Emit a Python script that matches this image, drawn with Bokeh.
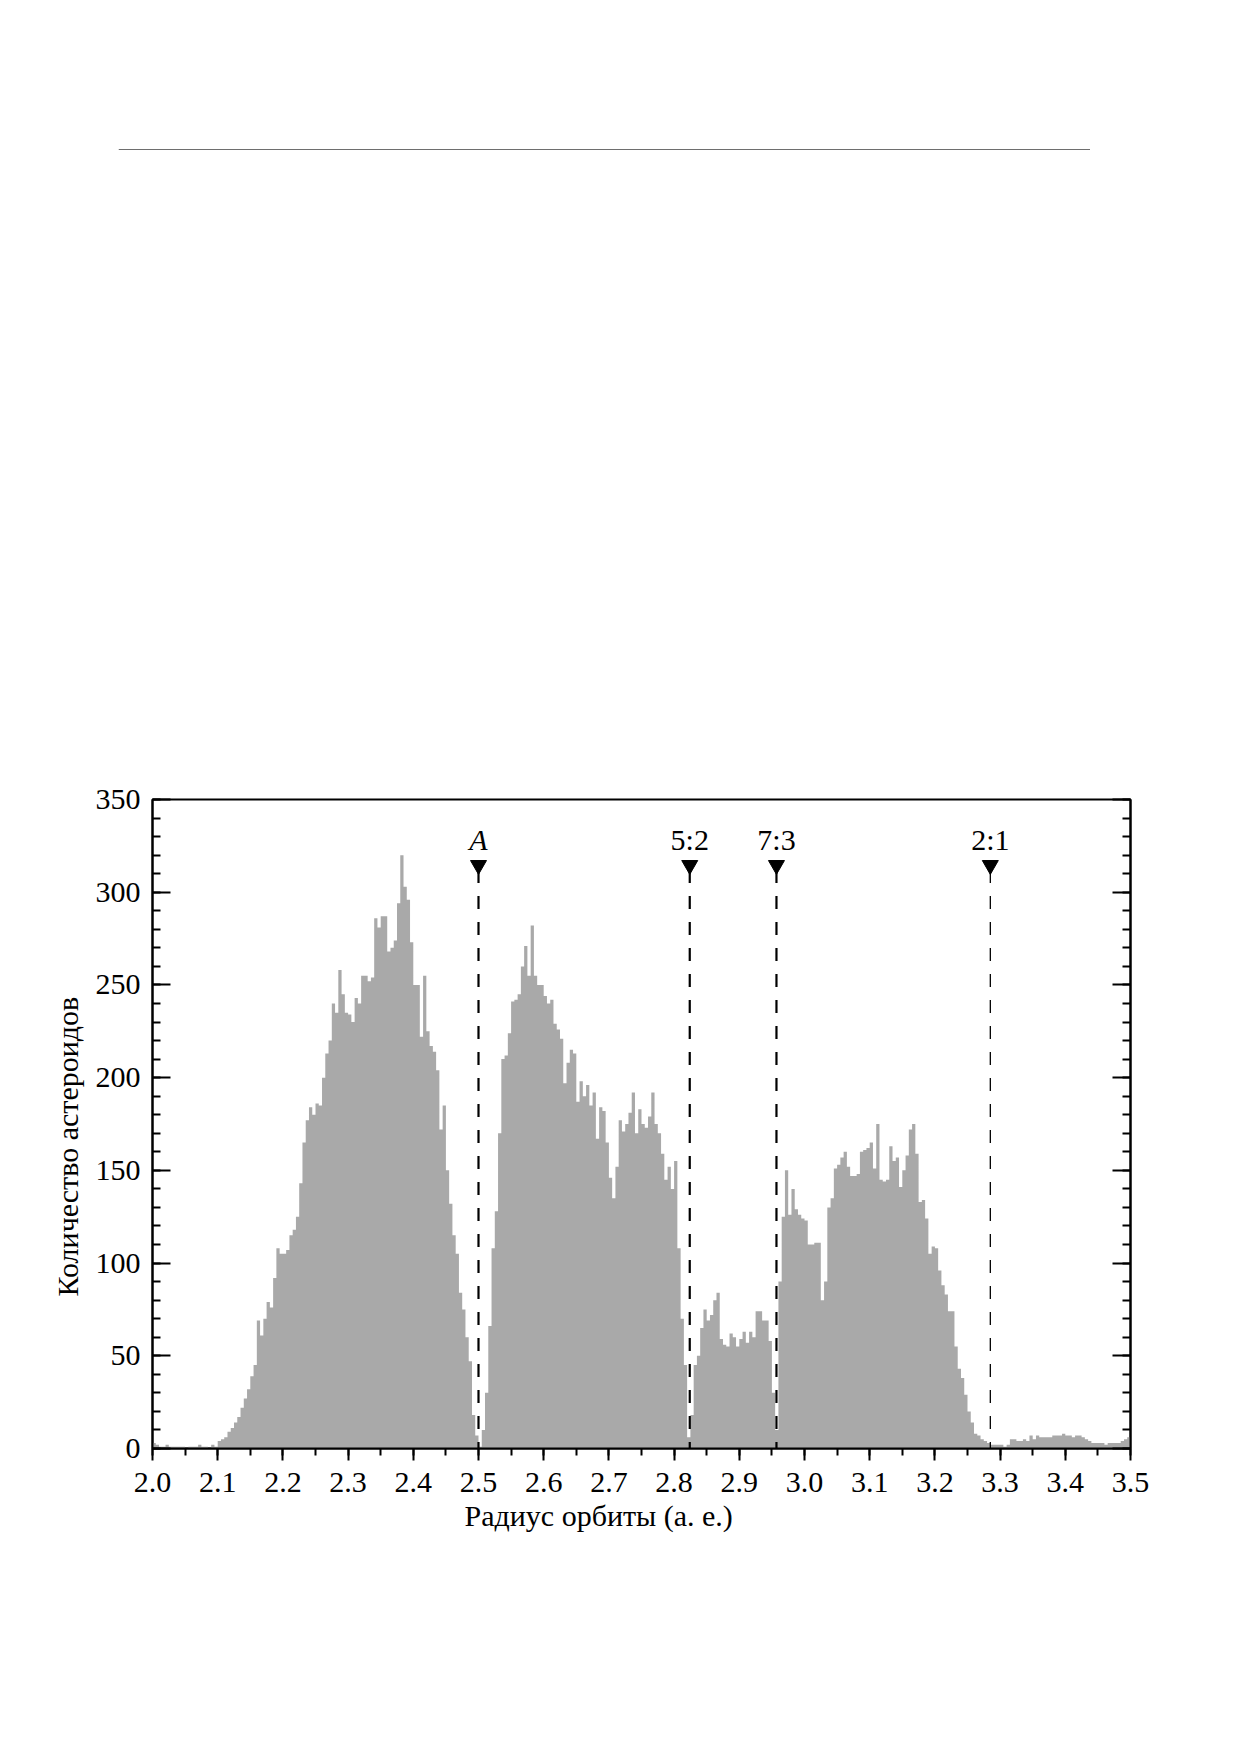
import numpy as np
from bokeh.plotting import figure
from bokeh.layouts import column, row
from bokeh.models import (Range1d, LinearAxis, SingleIntervalTicker, PrintfTickFormatter,
                          Span, ColumnDataSource, Title, Spacer)
from bokeh.core.properties import value
from bokeh.embed import file_html
from bokeh.resources import INLINE

# ---------------- data ----------------
bin_start = 2.0
bin_width = 0.005
counts = [
    3, 2, 1, 1, 2, 1, 1, 1, 1, 1,
    0, 1, 1, 1, 2, 1, 1, 0, 2, 1,
    4, 5, 6, 9, 11, 14, 17, 22, 27, 32,
    39, 45, 69, 61, 70, 79, 76, 92, 108, 105,
    105, 107, 115, 118, 125, 143, 165, 177, 184, 180,
    186, 185, 200, 213, 220, 240, 235, 258, 245, 235,
    234, 230, 243, 240, 255, 255, 252, 254, 286, 281,
    287, 287, 268, 270, 274, 294, 320, 303, 296, 273,
    250, 250, 222, 255, 225, 217, 214, 204, 172, 185,
    150, 132, 115, 105, 84, 75, 60, 47, 18, 7,
    1, 10, 30, 66, 108, 128, 170, 210, 212, 224,
    241, 242, 245, 260, 271, 255, 282, 255, 250, 250,
    244, 240, 242, 229, 226, 221, 197, 208, 215, 213,
    187, 198, 190, 196, 185, 192, 167, 184, 182, 165,
    146, 135, 152, 177, 171, 175, 181, 192, 170, 183,
    175, 173, 179, 192, 175, 170, 159, 145, 152, 140,
    155, 108, 70, 45, 6, 18, 45, 50, 65, 75,
    69, 72, 80, 84, 59, 56, 55, 62, 60, 55,
    59, 63, 57, 63, 60, 74, 74, 69, 69, 58,
    30, 10, 90, 125, 150, 126, 140, 129, 126, 124,
    123, 110, 110, 111, 111, 80, 90, 130, 135, 151,
    153, 157, 160, 152, 147, 147, 148, 160, 161, 162,
    165, 151, 175, 145, 144, 145, 163, 155, 157, 141,
    150, 158, 172, 175, 159, 133, 134, 124, 105, 109,
    108, 96, 88, 83, 74, 74, 55, 43, 38, 29,
    20, 14, 8, 7, 5, 4, 3, 2, 2, 2,
    2, 1, 2, 5, 5, 4, 4, 5, 4, 7,
    5, 7, 6, 6, 6, 6, 7, 7, 7, 8,
    7, 7, 6, 7, 7, 6, 5, 4, 3, 3,
    3, 3, 2, 3, 3, 3, 3, 4, 5, 6,
]

resonance_names = ["A", "5:2", "7:3", "2:1"]
resonance_au = [2.500, 2.824, 2.957, 3.285]
resonance_styles = ["italic", "normal", "normal", "normal"]
resonance_widths = [2.2, 2.2, 2.2, 1.3]

x_label = "Радиус орбиты (а. е.)"
y_label = "Количество астероидов"

FONT = "Liberation Serif"
FSIZE = "30px"
BAR_COLOR = "#a9a9a9"

# ---------------- header rule ----------------
rule = figure(frame_width=972, frame_height=200, x_range=Range1d(0, 1), y_range=Range1d(0, 200),
              min_border_left=0, min_border_right=0, min_border_top=0, min_border_bottom=0,
              x_axis_location=None, y_axis_location=None, output_backend="svg",
              toolbar_location=None, outline_line_color=None)
rule.grid.visible = False
rule.add_layout(Span(location=51, dimension="width", line_color="#6e6e6e", line_width=1))
rule_row = row(Spacer(width=118, height=200), rule, spacing=0)

# ---------------- main chart ----------------
p = figure(frame_width=978, frame_height=649,
           x_range=Range1d(2.0, 3.5), y_range=Range1d(0, 350),
           min_border_left=152, min_border_top=599, min_border_right=60, min_border_bottom=130,
           output_backend="svg", toolbar_location=None)
p.xgrid.visible = False
p.ygrid.visible = False
p.outline_line_color = "black"
p.outline_line_width = 2

edges = bin_start + bin_width * np.arange(len(counts) + 1)
heights = list(counts) + [counts[-1]]
p.varea_step(x=edges, y1=np.zeros(len(edges)), y2=heights, step_mode="after",
             fill_color=BAR_COLOR)

src = ColumnDataSource(dict(x=resonance_au, name=resonance_names,
                            style=resonance_styles, lw=resonance_widths))
p.segment(x0="x", y0=312, x1="x", y1=0, line_dash="13 13", line_width="lw",
          line_color="black", source=src)
p.scatter(x="x", y=314.6, marker="inverted_triangle", size=16, color="black", source=src)
p.text(x="x", y=328.5, text="name", source=src, text_font=value(FONT),
       text_font_size=value(FSIZE), text_font_style="style", text_align="center",
       text_baseline="alphabetic", text_color="black")

# axes
xa = p.xaxis[0]
xa.ticker = SingleIntervalTicker(interval=0.1, num_minor_ticks=2)
xa.formatter = PrintfTickFormatter(format="%.1f")
xa.major_tick_in = 0
xa.major_tick_out = 12
xa.minor_tick_in = 0
xa.minor_tick_out = 7
xa.major_label_standoff = 12

ya = p.yaxis[0]
ya.ticker = SingleIntervalTicker(interval=50, num_minor_ticks=5)
ya.major_tick_in = 18
ya.major_tick_out = 0
ya.minor_tick_in = 8
ya.minor_tick_out = 0
ya.major_label_standoff = 12

ra = LinearAxis(ticker=SingleIntervalTicker(interval=50, num_minor_ticks=5))
ra.major_tick_in = 18
ra.major_tick_out = 0
ra.minor_tick_in = 8
ra.minor_tick_out = 0
ra.major_label_text_color = None
p.add_layout(ra, "right")

for ax in (xa, ya, ra):
    ax.axis_line_width = 2
    ax.axis_line_color = "black"
    ax.major_tick_line_width = 2
    ax.minor_tick_line_width = 2
    ax.major_tick_line_color = "black"
    ax.minor_tick_line_color = "black"
    ax.major_label_text_font = FONT
    ax.major_label_text_font_size = FSIZE
for ax in (xa, ya):
    ax.major_label_text_color = "black"

p.add_layout(Title(text=x_label, align="left", offset=312, standoff=4,
                   text_font=FONT, text_font_size=FSIZE, text_font_style="normal",
                   text_color="black"), "below")
p.add_layout(Title(text=y_label, align="left", offset=152, standoff=18,
                   text_font=FONT, text_font_size=FSIZE, text_font_style="normal",
                   text_color="black"), "left")

layout = column(rule_row, p, spacing=0)
open("out.html", "w").write(file_html(layout, INLINE))
